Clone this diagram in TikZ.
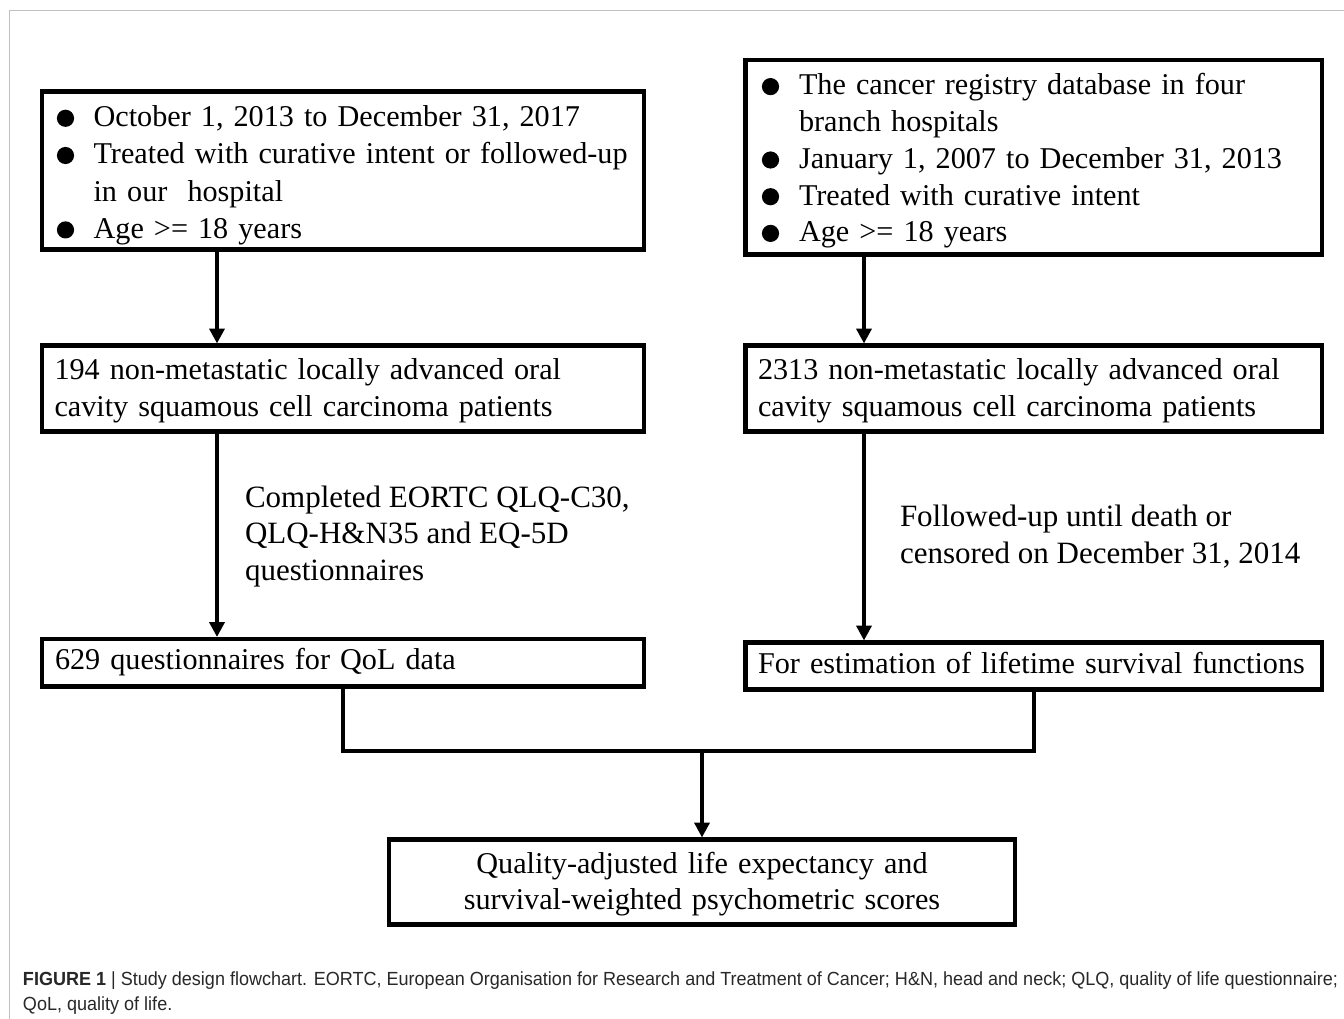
\documentclass[tikz,border=0pt]{standalone}
\usepackage{fontspec}
\usepackage{graphicx}
\setmainfont{Liberation Serif}
\newfontfamily\capfont{Liberation Sans}
\usetikzlibrary{arrows.meta,calc}
\definecolor{framegray}{RGB}{192,192,192}
\definecolor{captext}{RGB}{40,40,40}
\newsavebox\capboxa
\newsavebox\capboxb
\newlength\capw
\newcommand\bulsp[1]{\hspace*{#1pt}}
\newcommand\linesl[1]{\begin{tabular}[t]{@{}l@{}}#1\end{tabular}}
\newcommand\linesc[1]{\begin{tabular}[t]{@{}c@{}}#1\end{tabular}}
\begin{document}
\sbox\capboxa{\capfont\fontsize{19}{24}\selectfont\color{captext}\textbf{FIGURE 1} | Study design flowchart. EORTC, European Organisation for Research and Treatment of Cancer; H\&N, head and neck; QLQ, quality of life questionnaire;}
\sbox\capboxb{\capfont\fontsize{19}{24}\selectfont\color{captext}QoL, quality of life.}
\setlength\capw{\wd\capboxa}
\pgfmathsetmacro\capsx{1315/\capw}
\begin{tikzpicture}[x=1pt,y=-1pt,
  box/.style={draw=black, line width=4.5pt, outer sep=0pt, inner ysep=0pt,
    align=left, minimum width=0pt, minimum height=0pt,
    font=\fontsize{30.2}{37}\selectfont},
  lbl/.style={inner sep=0pt, outer sep=0pt, anchor=base west,
    font=\fontsize{31}{36.6}\selectfont},
  bulletdot/.style={fill=black},
  conn/.style={line width=4pt, shorten >=2pt, -{Triangle[length=15pt,width=15pt]}},
  link/.style={line width=4pt, line join=miter},
  capnode/.style={inner sep=0pt, outer sep=0pt, anchor=base west}]
\useasboundingbox (0,0) rectangle (1344,1019);
\fill[white] (0,0) rectangle (1344,1019);
\draw[framegray, line width=1.3pt] (1344,10.5) -- (9.5,10.5) -- (9.5,1019);

% top-left box
\node[box, anchor=north west, inner xsep=15pt, text width=572pt,
  text height=35.2pt, text depth=122.8pt, font=\fontsize{30.2}{37.2}\selectfont] (a) at (42,91.5)
  {\begin{tabular}[t]{@{}l@{}l@{}}
   \bulsp{36.6} & October 1, 2013 to December 31, 2017\\
   \bulsp{36.6} & Treated with curative intent or followed-up\\
                & in our~ hospital\\
   \bulsp{36.6} & Age >= 18 years
   \end{tabular}};
\foreach \yy in {118.3,155.5,229.9} \fill[bulletdot] (65.5,\yy) circle (8.6pt);

% top-right box
\node[box, anchor=north west, inner xsep=16.2pt, text width=544.1pt,
  text height=35pt, text depth=159.5pt, font=\fontsize{30.2}{36.7}\selectfont] (b) at (745.5,60)
  {\begin{tabular}[t]{@{}l@{}l@{}}
   \bulsp{37.3} & The cancer registry database in four\\
                & branch hospitals\\
   \bulsp{37.3} & January 1, 2007 to December 31, 2013\\
   \bulsp{37.3} & Treated with curative intent\\
   \bulsp{37.3} & Age >= 18 years
   \end{tabular}};
\foreach \yy in {86.6,160,196.7,233.4} \fill[bulletdot] (770.5,\yy) circle (8.6pt);

% middle boxes
\node[box, anchor=north west, inner xsep=12.5pt, text width=577pt,
  text height=34pt, text depth=52pt] (c) at (42,345.5)
  {\linesl{194 non-metastatic locally advanced oral\\cavity squamous cell carcinoma patients}};
\node[box, anchor=north west, inner xsep=12.5pt, text width=551.5pt,
  text height=34pt, text depth=52pt] (d) at (745.5,345.5)
  {\linesl{2313 non-metastatic locally advanced oral\\cavity squamous cell carcinoma patients}};

% lower boxes
\node[box, anchor=north west, inner xsep=13pt, text width=576pt,
  text height=30.5pt, text depth=17pt] (e) at (42,639)
  {\linesl{629 questionnaires for QoL data}};
\node[box, anchor=north west, inner xsep=12.5pt, text width=551.5pt,
  text height=31pt, text depth=16pt] (f) at (745.5,642.5)
  {\linesl{For estimation of lifetime survival functions}};

% final box
\node[box, anchor=north west, align=center, inner xsep=10pt, text width=606pt,
  text height=33.5pt, text depth=51.5pt, font=\fontsize{30.2}{36.7}\selectfont] (g) at (389,839.5)
  {\linesc{Quality-adjusted life expectancy and\\survival-weighted psychometric scores}};

% connector labels
\node[lbl] (l1) at (245,507.3)
  {\linesl{Completed EORTC QLQ-C30,\\QLQ-H\&N35 and EQ-5D\\questionnaires}};
\node[lbl] (l2) at (900,526.7)
  {\linesl{Followed-up until death or\\censored on December 31, 2014}};

% connectors
\coordinate (xl) at (217,0);
\coordinate (xr) at (864,0);
\coordinate (mid) at (702,750.5);
\draw[conn] (a.south -| xl) -- (c.north -| xl);
\draw[conn] (b.south -| xr) -- (d.north -| xr);
\draw[conn] (c.south -| xl) -- (e.north -| xl);
\draw[conn] (d.south -| xr) -- (f.north -| xr);
\draw[link] (e.south) -- (e.south |- mid) -- (f.south |- mid) -- (f.south);
\draw[conn] (mid) -- (g.north);

% caption
\node[capnode] (cap1) at (23,985) {\scalebox{\capsx}[1]{\usebox\capboxa}};
\node[capnode] (cap2) at (23,1010) {\scalebox{\capsx}[1]{\usebox\capboxb}};
\end{tikzpicture}
\end{document}
